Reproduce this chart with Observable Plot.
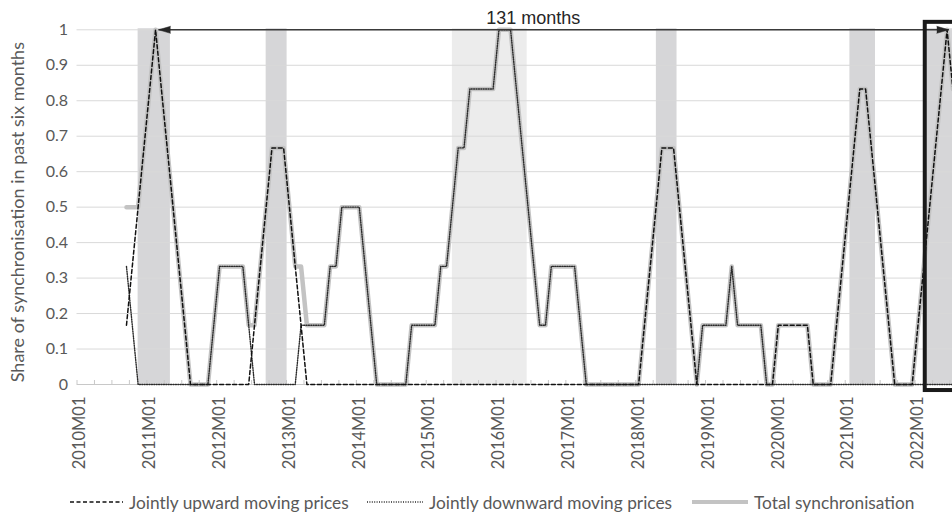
<!DOCTYPE html>
<html><head><meta charset="utf-8">
<script src="https://cdn.jsdelivr.net/npm/d3@7"></script>
<script src="https://cdn.jsdelivr.net/npm/@observablehq/plot@0.6"></script>
<style>
html,body{margin:0;padding:0;background:#fff;overflow:hidden;}
#wrap{width:952px;height:512px;overflow:hidden;position:relative;font-family:Lato,"Liberation Sans",sans-serif;}
#legend{position:absolute;top:491px;left:0;width:952px;height:22px;font-size:17.3px;color:#595959;}
.item{position:absolute;top:0;display:flex;align-items:center;white-space:nowrap;height:22px;}
.item svg{margin-right:6px;}
</style></head><body><div id="wrap"><div id="chart"></div><div id="legend"></div></div>
<script>
// Series: share of synchronisation in the past six months, monthly from 2010M09
const firstMonth = "2010M09";
const startIndex = 8; // months after 2010M01
const upward = [
  .167, .333, .5, .667,                                        // 2010 M09-M12
  .833, 1, .833, .667, .5, .333, .167, 0, 0, 0, 0, 0,          // 2011
  0, 0, 0, 0, 0, 0, .167, .333, .5, .667, .667, .667,          // 2012
  .5, .333, .167, 0, 0, 0, 0, 0, 0, 0, 0, 0,                   // 2013
  0, 0, 0, 0, 0, 0, 0, 0, 0, 0, 0, 0,                          // 2014
  0, 0, 0, 0, 0, 0, 0, 0, 0, 0, 0, 0,                          // 2015
  0, 0, 0, 0, 0, 0, 0, 0, 0, 0, 0, 0,                          // 2016
  0, 0, 0, 0, 0, 0, 0, 0, 0, 0, 0, 0,                          // 2017
  0, .167, .333, .5, .667, .667, .667, .5, .333, .167, 0, 0,   // 2018
  0, 0, 0, 0, 0, 0, 0, 0, 0, 0, 0, 0,                          // 2019
  .167, .167, .167, .167, .167, .167, 0, 0, 0, 0, .167, .333,  // 2020
  .5, .667, .833, .833, .667, .5, .333, .167, 0, 0, 0, 0,      // 2021
  .167, .333, .5, .667, .833, 1, .833                          // 2022 M01-M07
];
const downward = [
  .333, .167, 0, 0,
  0, 0, 0, 0, 0, 0, 0, 0, 0, 0, 0, .167,
  .333, .333, .333, .333, .333, .167, 0, 0, 0, 0, 0, 0,
  0, 0, .167, .167, .167, .167, .167, .333, .333, .5, .5, .5,
  .5, .333, .167, 0, 0, 0, 0, 0, 0, .167, .167, .167,
  .167, .167, .333, .333, .5, .667, .667, .833, .833, .833, .833, .833,
  1, 1, 1, .833, .667, .5, .333, .167, .167, .333, .333, .333,
  .333, .333, .167, 0, 0, 0, 0, 0, 0, 0, 0, 0,
  0, 0, 0, 0, 0, 0, 0, 0, 0, 0, 0, .167,
  .167, .167, .167, .167, .333, .167, .167, .167, .167, .167, 0, 0,
  0, 0, 0, 0, 0, 0, 0, 0, 0, 0, 0, 0,
  0, 0, 0, 0, 0, 0, 0, 0, 0, 0, 0, 0,
  0, 0, 0, 0, 0, 0, 0
];
const totalSync = [
  .5, .5, .5, .667,
  .833, 1, .833, .667, .5, .333, .167, 0, 0, 0, 0, .167,
  .333, .333, .333, .333, .333, .167, .167, .333, .5, .667, .667, .667,
  .5, .333, .333, .167, .167, .167, .167, .333, .333, .5, .5, .5,
  .5, .333, .167, 0, 0, 0, 0, 0, 0, .167, .167, .167,
  .167, .167, .333, .333, .5, .667, .667, .833, .833, .833, .833, .833,
  1, 1, 1, .833, .667, .5, .333, .167, .167, .333, .333, .333,
  .333, .333, .167, 0, 0, 0, 0, 0, 0, 0, 0, 0,
  0, .167, .333, .5, .667, .667, .667, .5, .333, .167, 0, .167,
  .167, .167, .167, .167, .333, .167, .167, .167, .167, .167, 0, 0,
  .167, .167, .167, .167, .167, .167, 0, 0, 0, 0, .167, .333,
  .5, .667, .833, .833, .667, .5, .333, .167, 0, 0, 0, 0,
  .167, .333, .5, .667, .833, 1, .833
];
// x tick labels (one per year) and y tick labels
const xTickLabels = ["2010M01","2011M01","2012M01","2013M01","2014M01","2015M01","2016M01","2017M01","2018M01","2019M01","2020M01","2021M01","2022M01"];
const yTicks = [0, 0.1, 0.2, 0.3, 0.4, 0.5, 0.6, 0.7, 0.8, 0.9, 1];
const yTickLabels = ["0","0.1","0.2","0.3","0.4","0.5","0.6","0.7","0.8","0.9","1"];
// shaded periods (in months after 2010M01)
const bandStart = [10.0, 32.0, 64.0, 99.05, 132.3, 145.4];
const bandEnd   = [15.55, 35.6, 76.85, 102.6, 136.7, 160];
const bandShade = ["dark", "dark", "light", "dark", "dark", "dark"];
// annotation
const spanLabel = "131 months";
const spanFrom = 13.5, spanTo = 149.3;
const yTitle = "Share of synchronisation in past six months";
const seriesNames = ["Jointly upward moving prices", "Jointly downward moving prices", "Total synchronisation"];

const data = upward.map((v, i) => ({m: startIndex + i, up: v, down: downward[i], total: totalSync[i]}));
const bands = bandStart.map((s, i) => ({s, e: bandEnd[i], shade: bandShade[i]}));
const labelMonths = xTickLabels.map((_, i) => i * 12);
const quarterTicks = d3.range(-0.5, 151, 3);

const font = "Lato, 'Liberation Sans', sans-serif";
const chart = Plot.plot({
  width: 952, height: 480,
  marginLeft: 76.5, marginRight: 0, marginTop: 29.3, marginBottom: 96,
  style: {fontFamily: font, background: "transparent", overflow: "hidden"},
  x: {type: "linear", domain: [-0.5, 150], range: [76.5, 952.4]},
  y: {domain: [0, 1], range: [384, 29.3]},
  marks: [
    Plot.rect(bands, {x1: "s", x2: "e", y1: 0, y2: 1.003, fill: d => d.shade === "light" ? "#ececec" : "#d6d6d8"}),
    Plot.ruleY(yTicks.slice(1), {stroke: "#d9d9d9", strokeWidth: 1}),
    Plot.ruleY([0], {stroke: "#c8c8c8", strokeWidth: 1}),
    Plot.axisX(quarterTicks, {tickSize: -4, tickFormat: () => "", stroke: "#c8c8c8", label: null}),
    Plot.axisX(labelMonths, {tickSize: 0, tickRotate: -90, tickPadding: 12, tickFormat: d => xTickLabels[d / 12],
      fontSize: 16.5, fill: "#595959", label: null}),
    Plot.axisY(yTicks, {tickSize: 0, tickPadding: 9, tickFormat: d => yTickLabels[yTicks.indexOf(d)],
      fontSize: 16, fill: "#595959", label: null}),
    Plot.text([yTitle], {frameAnchor: "left", rotate: -90, dx: -59, dy: 5, textAnchor: "middle", lineAnchor: "middle",
      fontSize: 18, fill: "#595959", text: d => d}),
    Plot.line(data, {x: "m", y: "total", stroke: "#c3c3c3", strokeWidth: 4.5, strokeLinejoin: "round"}),
    Plot.line(data, {x: "m", y: "down", stroke: "#2a2a2a", strokeWidth: 1.4, strokeDasharray: "1,1.4"}),
    Plot.line(data, {x: "m", y: "up", stroke: "#111", strokeWidth: 1.5, strokeDasharray: "4,2.5"}),
    Plot.link([{a: spanFrom, b: spanTo}], {x1: "a", x2: "b", y1: 1, y2: 1, stroke: "#3a3a3a", strokeWidth: 1.4}),
    Plot.vector([{x: spanFrom, r: -90}, {x: spanTo, r: 90}], {x: "x", y: 1, rotate: "r", length: 12, shape: "spike", r: 3.5,
      anchor: "end", fill: "#262626", stroke: "#262626", strokeWidth: 0.5}),
    Plot.text([spanLabel], {x: 77.9, frameAnchor: "top", dy: -12, lineAnchor: "middle", text: d => d, fontSize: 18,
      fontFamily: "'Liberation Sans', Arial, sans-serif", fill: "#262626"}),
    Plot.rect([{}], {x1: 145.25, x2: 160, y1: -0.017, y2: 1.021, fill: "none", stroke: "#1a1a1a", strokeWidth: 4})
  ]
});
document.getElementById("chart").appendChild(chart);

// legend
const legend = document.getElementById("legend");
const items = [
  {left: 70, w: 53, sample: `<line x1="0" y1="11" x2="53" y2="11" stroke="#111" stroke-width="1.3" stroke-dasharray="4,2.5"/>`},
  {left: 367, w: 56, sample: `<line x1="0" y1="11" x2="56" y2="11" stroke="#2a2a2a" stroke-width="1.3" stroke-dasharray="1,1.4"/>`},
  {left: 692, w: 56, sample: `<line x1="0" y1="11" x2="56" y2="11" stroke="#c3c3c3" stroke-width="4"/>`}
];
items.forEach((it, i) => {
  const div = document.createElement("div");
  div.className = "item";
  div.style.left = it.left + "px";
  div.innerHTML = `<svg width="${it.w}" height="22">${it.sample}</svg><span>${seriesNames[i]}</span>`;
  legend.appendChild(div);
});
</script></body></html>
